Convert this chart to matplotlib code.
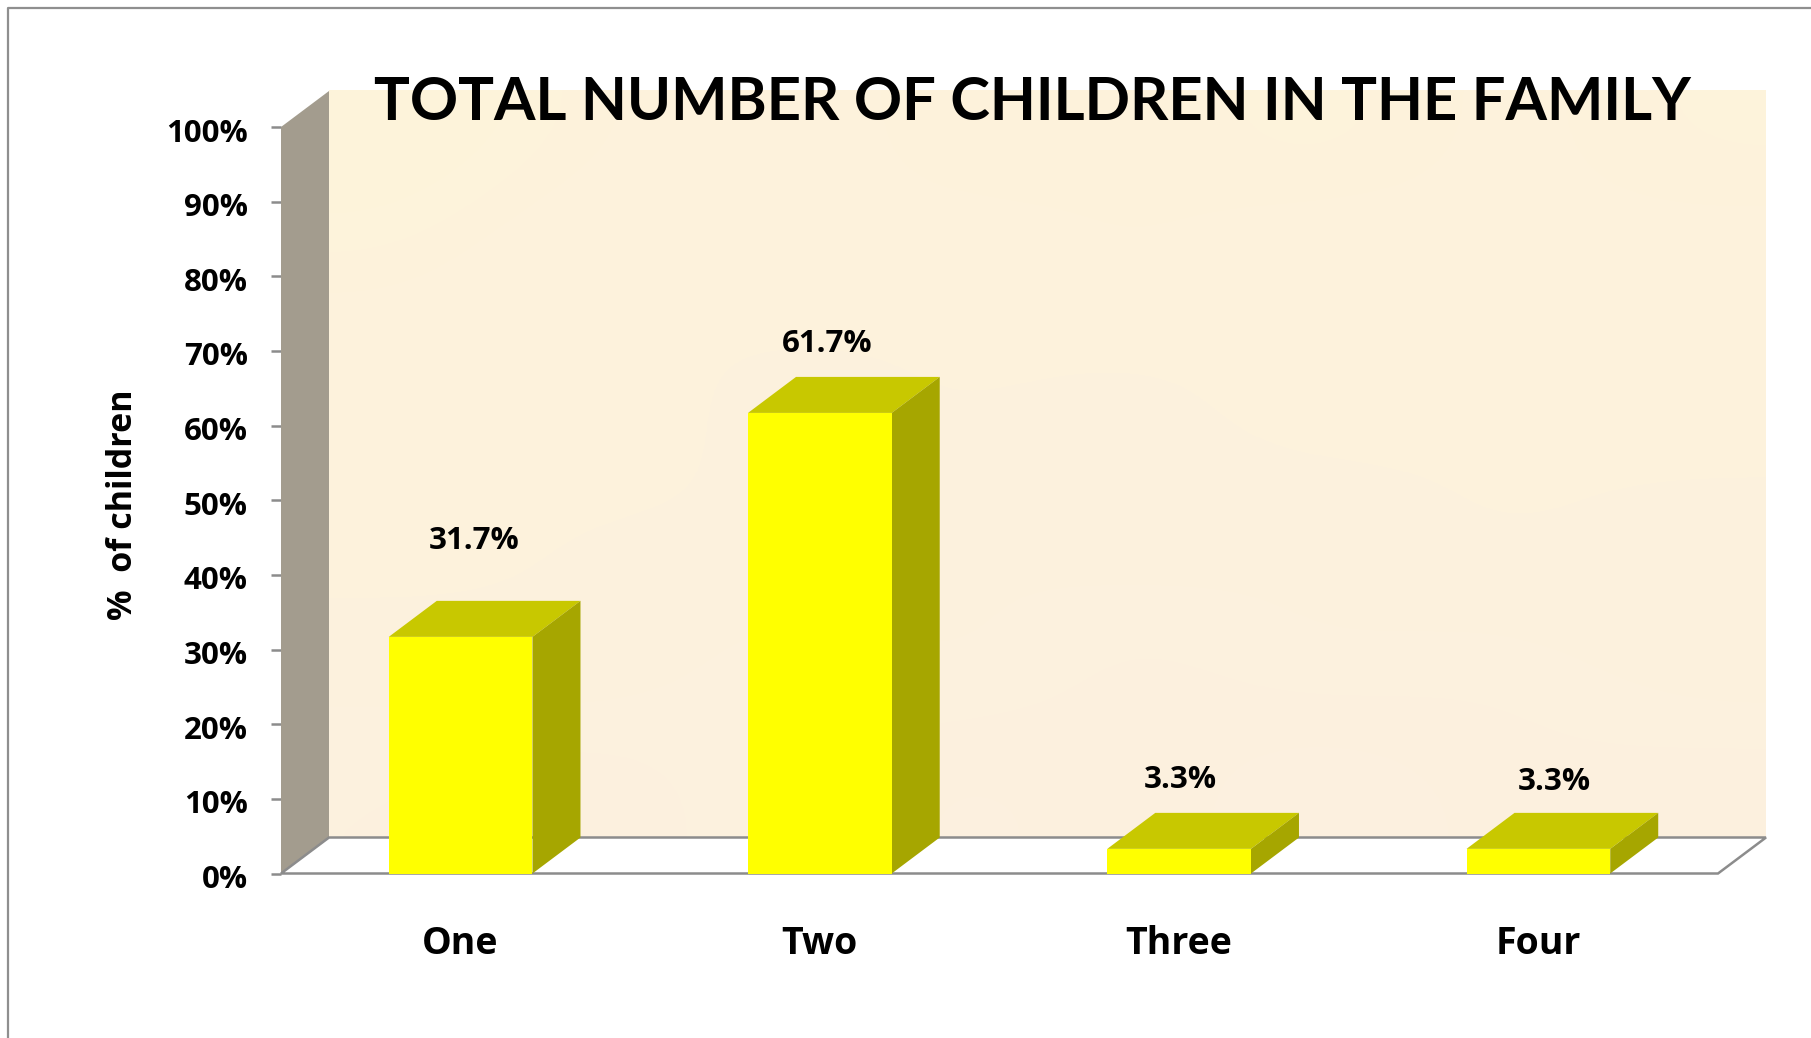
import numpy as np
import matplotlib
matplotlib.use("Agg")
import matplotlib.pyplot as plt
from matplotlib.patches import Polygon
from matplotlib.lines import Line2D
from matplotlib.transforms import ScaledTranslation

categories = ["One", "Two", "Three", "Four"]
values = [31.7, 61.7, 3.3, 3.3]
value_labels = ["31.7%", "61.7%", "3.3%", "3.3%"]
y_ticks = [0, 10, 20, 30, 40, 50, 60, 70, 80, 90, 100]
title = "TOTAL NUMBER OF CHILDREN IN THE FAMILY"
y_label = "%  of children"

# soft parchment tints of the back wall
wall_tints = [
    [0.00, 0.30, 0.55, 0.15, 0.40, 0.10, 0.45, 0.20],
    [0.30, 0.70, 0.25, 0.60, 0.20, 0.65, 0.30, 0.50],
    [0.55, 0.20, 0.75, 0.35, 0.70, 0.25, 0.60, 0.30],
    [0.35, 0.60, 0.40, 0.80, 0.45, 0.75, 0.35, 0.65],
    [0.60, 0.45, 0.85, 0.50, 0.90, 0.55, 0.80, 0.50],
    [0.75, 0.90, 0.60, 0.95, 0.70, 1.00, 0.75, 0.85],
]

W, H = 1811, 1038
fig = plt.figure(figsize=(W / 100, H / 100), dpi=100, facecolor="white")
L, R, T, B = 281, 1718, 127, 873.5
ax = fig.add_axes([L / W, 1 - B / H, (R - L) / W, (B - T) / H])
ax.set_xlim(-0.5, 3.5)
ax.set_ylim(0, 100)
ax.patch.set_visible(False)
for s in ax.spines.values():
    s.set_visible(False)

DX = 48 / ((R - L) / 4)       # depth, in category units
DY = 36 / ((B - T) / 100)     # depth, in percent units
BAR = 0.4
GREY = "#8c8c8c"
BOLD = dict(family=["Open Sans", "DejaVu Sans"], fontweight="bold", color="black")

# frame
fig.add_artist(Line2D([7.5 / W, 7.5 / W, 1], [0, 1 - 7.5 / H, 1 - 7.5 / H], color="#8f8f8f", lw=1.6))

# back wall
cmap = matplotlib.colors.LinearSegmentedColormap.from_list("wall", ["#FEF4DA", "#FCF0E0"])
ax.imshow(wall_tints, cmap=cmap, interpolation="bicubic", aspect="auto", zorder=1, clip_on=False,
          vmin=0, vmax=1, origin="upper",
          extent=(-0.5 + DX, 3.5 + DX, DY, 100 + DY))
ax.set_xlim(-0.5, 3.5)
ax.set_ylim(0, 100)

# side wall
ax.add_patch(Polygon([(-0.5, 0), (-0.5 + DX, DY), (-0.5 + DX, 100 + DY), (-0.5, 100)],
                     fc="#A39C8E", ec="none", zorder=2, clip_on=False))
# floor
ax.add_patch(Polygon([(-0.5, 0), (-0.5 + DX, DY), (3.5 + DX, DY), (3.5, 0)],
                     fc="white", ec=GREY, lw=1.8, zorder=2, clip_on=False))

# bars
x = np.arange(len(categories))
ax.bar(x, values, width=BAR, color="#FFFF00", zorder=5, clip_on=False)
for xi, v in zip(x, values):
    l, r = xi - BAR / 2, xi + BAR / 2
    ax.add_patch(Polygon([(l, v), (l + DX, v + DY), (r + DX, v + DY), (r, v)],
                         fc="#C8C800", ec="none", zorder=4, clip_on=False))
    ax.add_patch(Polygon([(r, 0), (r + DX, DY), (r + DX, v + DY), (r, v)],
                         fc="#A6A600", ec="none", zorder=4, clip_on=False))

# axes decoration
ax.set_yticks(y_ticks)
ax.set_yticklabels([f"{t}%" for t in y_ticks], fontsize=22.5, **BOLD)
ax.tick_params(axis="y", length=7, width=1.8, color=GREY, pad=17)
for lbl in ax.get_yticklabels():
    lbl.set_transform(lbl.get_transform() + ScaledTranslation(0, -3 / 100, fig.dpi_scale_trans))
ax.set_xticks(x)
ax.set_xticklabels(categories, fontsize=27, **BOLD)
ax.tick_params(axis="x", length=0, pad=37)
ax.set_ylabel(y_label, fontsize=24.5, labelpad=0, **BOLD)
ax.yaxis.set_label_coords((140 - L) / (R - L), (B - 505) / (B - T))

# data labels
label_dx = [14, 7, 1, 16]
label_dy = [96, 69, 69, 67]
for xi, v, s, dx, dy in zip(x, values, value_labels, label_dx, label_dy):
    ax.annotate(s, (xi, v), xytext=(dx * 0.72, dy * 0.72), textcoords="offset points",
                ha="center", va="center", fontsize=22.5, zorder=6, annotation_clip=False, **BOLD)

fig.text(1032 / W, 1 - 103 / H, title, ha="center", va="center", fontsize=43,
         family=["Lato", "DejaVu Sans"], fontweight="bold", color="black", zorder=10)

fig.savefig("out.png", dpi=100, facecolor="white")
